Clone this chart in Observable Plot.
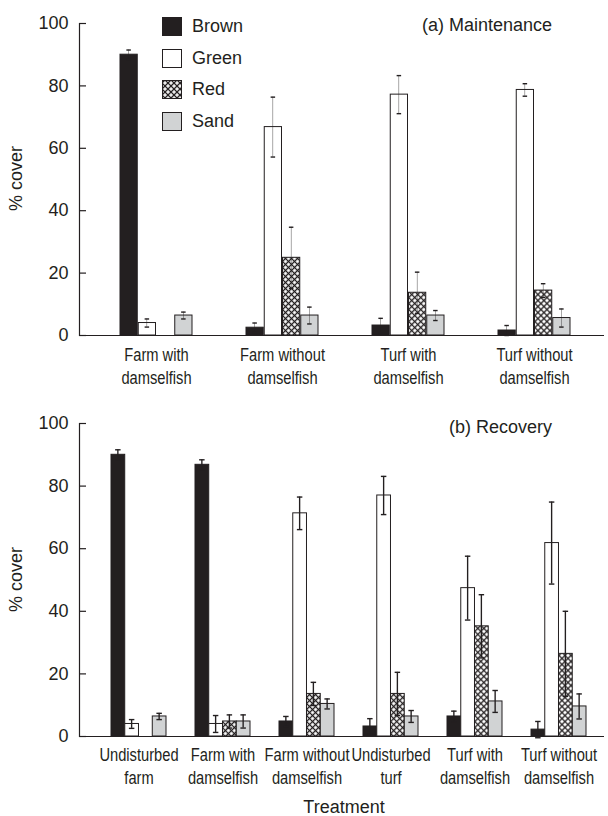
<!DOCTYPE html>
<html>
<head>
<meta charset="utf-8">
<script src="https://cdn.jsdelivr.net/npm/d3@7"></script>
<script src="https://cdn.jsdelivr.net/npm/@observablehq/plot@0.6"></script>
<style>
  body { margin: 0; background: #fff; }
  #wrap { position: relative; width: 608px; height: 816px; overflow: hidden;
          font-family: "Liberation Sans", Arial, Helvetica, sans-serif; color: #231f20; background: #fff; }
  #wrap > svg { display: block; }
  .lbl { position: absolute; font-size: 18px; line-height: 21px; white-space: nowrap; }
  .ylab { position: absolute; width: 200px; text-align: center; font-size: 18px; line-height: 21px;
          transform: rotate(-90deg); }
  .legend { position: absolute; left: 162px; top: 11px; }
  .legend .row { display: flex; align-items: center; height: 31.5px; }
  .legend .row span { font-size: 18px; margin-left: 10px; line-height: 19px; }
  .legend svg { display: block; }
</style>
</head>
<body>
<div id="wrap"></div>
<script>
// ---------- data ----------
const series = ["Brown", "Green", "Red", "Sand"];

// (a) Maintenance
const groupsA = ["Farm with\ndamselfish", "Farm without\ndamselfish", "Turf with\ndamselfish", "Turf without\ndamselfish"];
const brownA   = [90.0, 2.5, 3.2, 1.6];
const brownAse = [1.5, 1.5, 2.3, 1.6];
const greenA   = [4.0, 66.8, 77.2, 78.7];
const greenAse = [1.3, 9.6, 6.1, 2.0];
const redA     = [0, 24.9, 13.7, 14.4];
const redAse   = [0, 9.8, 6.6, 2.2];
const sandA    = [6.4, 6.4, 6.4, 5.6];
const sandAse  = [1.1, 2.7, 1.6, 2.9];

// (b) Recovery
const groupsB = ["Undisturbed\nfarm", "Farm with\ndamselfish", "Farm without\ndamselfish", "Undisturbed\nturf", "Turf with\ndamselfish", "Turf without\ndamselfish"];
const brownB   = [90.0, 86.8, 4.8, 3.2, 6.4, 2.2];
const brownBse = [1.6, 1.6, 1.6, 2.5, 1.7, 2.6];
const greenB   = [4.0, 4.0, 71.3, 77.0, 47.4, 61.8];
const greenBse = [1.4, 2.7, 5.2, 6.1, 10.2, 13.1];
const redB     = [0, 4.8, 13.6, 13.6, 35.2, 26.4];
const redBse   = [0, 2.1, 3.7, 6.9, 10.1, 13.6];
const sandB    = [6.4, 4.8, 10.4, 6.4, 11.2, 9.6];
const sandBse  = [1.0, 2.1, 1.6, 1.9, 3.5, 4.0];

const yTicks = [0, 20, 40, 60, 80, 100];

// ---------- helpers ----------
const INK = "#231f20";
function rowsOf(groups, means, ses) {
  const rows = [];
  series.forEach((s, i) => groups.forEach((g, j) => rows.push({group: g, series: s, mean: means[i][j], se: ses[i][j]})));
  return rows;
}
const rowsA = rowsOf(groupsA, [brownA, greenA, redA, sandA], [brownAse, greenAse, redAse, sandAse]);
const rowsB = rowsOf(groupsB, [brownB, greenB, redB, sandB], [brownBse, greenBse, redBse, sandBse]);

function addPattern(svg, id) {
  const ns = "http://www.w3.org/2000/svg";
  const defs = document.createElementNS(ns, "defs");
  const p = document.createElementNS(ns, "pattern");
  p.setAttribute("id", id);
  p.setAttribute("patternUnits", "userSpaceOnUse");
  p.setAttribute("width", "4.25");
  p.setAttribute("height", "4.25");
  p.setAttribute("patternTransform", "rotate(45)");
  const r = document.createElementNS(ns, "rect");
  r.setAttribute("width", "4.25"); r.setAttribute("height", "4.25"); r.setAttribute("fill", "#fff");
  const path = document.createElementNS(ns, "path");
  path.setAttribute("d", "M0,2.125H4.25M2.125,0V4.25");
  path.setAttribute("stroke", INK); path.setAttribute("stroke-width", "1.35"); path.setAttribute("fill", "none");
  p.appendChild(r); p.appendChild(path); defs.appendChild(p);
  svg.insertBefore(defs, svg.firstChild);
}

function panel(groups, rows, o) {
  const width = 608, marginLeft = 79, marginRight = 4;
  const band = d3.scaleBand(groups, [marginLeft, width - marginRight])
    .paddingInner(o.paddingInner).paddingOuter(o.paddingOuter).align(o.align);
  const n = series.length;
  const bw = band.bandwidth() / n;
  const cap = 5.5, stem = 1.4, tick = 7;
  const fills = {Brown: INK, Green: "#ffffff", Red: `url(#${o.patternId})`, Sand: "#d1d3d4"};
  const marks = [];
  series.forEach((s, i) => {
    const data = rows.filter(d => d.series === s);
    marks.push(Plot.barY(data, {
      x: "group", y: "mean", fill: fills[s], stroke: INK, strokeWidth: 1,
      insetLeft: i * bw, insetRight: (n - 1 - i) * bw
    }));
  });
  marks.push(Plot.ruleY([0], {stroke: INK, strokeWidth: 1.2}));
  series.forEach((s, i) => {
    const data = rows.filter(d => d.series === s && d.se > 0);
    const L = i * bw, R = (n - 1 - i) * bw;
    marks.push(Plot.barY(data, {
      x: "group", y1: d => d.mean - d.se, y2: d => d.mean + d.se, fill: INK,
      insetLeft: L + (bw - stem) / 2, insetRight: R + (bw - stem) / 2
    }));
    for (const f of [d => d.mean + d.se, d => d.mean - d.se]) {
      marks.push(Plot.tickY(data, {
        x: "group", y: f, stroke: INK, strokeWidth: 1.4,
        insetLeft: L + (bw - cap) / 2, insetRight: R + (bw - cap) / 2
      }));
    }
  });
  // inward y ticks
  marks.push(Plot.tickY(yTicks, {y: d => d, stroke: INK, strokeWidth: 1.2,
    insetRight: width - marginLeft - marginRight - tick}));
  marks.push(Plot.frame({anchor: "left", stroke: INK, strokeWidth: 1.2}));
  marks.push(Plot.axisY({ticks: yTicks, tickSize: 0, tickPadding: 11, fontSize: 18, label: null, fill: INK}));
  marks.push(Plot.axisX({tickSize: 0, tickPadding: o.tickPadding, fontSize: 17.5, lineHeight: 1.27,
    label: null, fill: INK}));

  const svg = Plot.plot({
    width, height: o.height,
    marginLeft, marginRight, marginTop: o.marginTop, marginBottom: o.marginBottom,
    x: {type: "band", domain: groups, paddingInner: o.paddingInner, paddingOuter: o.paddingOuter, align: o.align, label: null},
    y: {domain: [0, 100], label: null},
    style: {fontFamily: "'Liberation Sans', Arial, sans-serif", fontSize: "18px", color: INK, background: "#fff", overflow: "visible"},
    marks
  });
  addPattern(svg, o.patternId);
  // condensed look of the category labels (as in the reference)
  svg.querySelectorAll('g[aria-label="x-axis tick label"] text').forEach(t => {
    const tr = t.getAttribute("transform") || "";
    t.setAttribute("transform", tr + " scale(0.84,1)");
  });
  return svg;
}

const wrap = document.getElementById("wrap");
const plotA = panel(groupsA, rowsA, {height: 400, marginTop: 23, marginBottom: 65, paddingInner: 0.425, paddingOuter: 0.28, align: 0.55, patternId: "hatchA", tickPadding: 10});
const plotB = panel(groupsB, rowsB, {height: 416, marginTop: 23, marginBottom: 80, paddingInner: 0.351, paddingOuter: 0.271, align: 0.63, patternId: "hatchB", tickPadding: 9});
wrap.appendChild(plotA);
wrap.appendChild(plotB);

// titles and axis labels
function addLabel(text, css, cls = "lbl") {
  const d = document.createElement("div");
  d.className = cls; d.textContent = text;
  Object.assign(d.style, css);
  wrap.appendChild(d);
}
addLabel("(a) Maintenance", {right: "56px", top: "15px"});
addLabel("(b) Recovery", {right: "56px", top: "417px"});
addLabel("% cover", {left: "-84px", top: "168px"}, "ylab");
addLabel("% cover", {left: "-84px", top: "569px"}, "ylab");
addLabel("Treatment", {left: "244px", width: "200px", textAlign: "center", top: "797px"});

// legend
const legendFills = {Brown: INK, Green: "#ffffff", Red: "url(#hatchA)", Sand: "#d1d3d4"};
const leg = document.createElement("div");
leg.className = "legend";
for (const s of series) {
  const row = document.createElement("div");
  row.className = "row";
  row.innerHTML = `<svg width="20" height="19"><rect x="0.5" y="0.5" width="19" height="18" fill="${legendFills[s]}" stroke="${INK}" stroke-width="1"/></svg><span>${s}</span>`;
  leg.appendChild(row);
}
wrap.appendChild(leg);
</script>
</body>
</html>
